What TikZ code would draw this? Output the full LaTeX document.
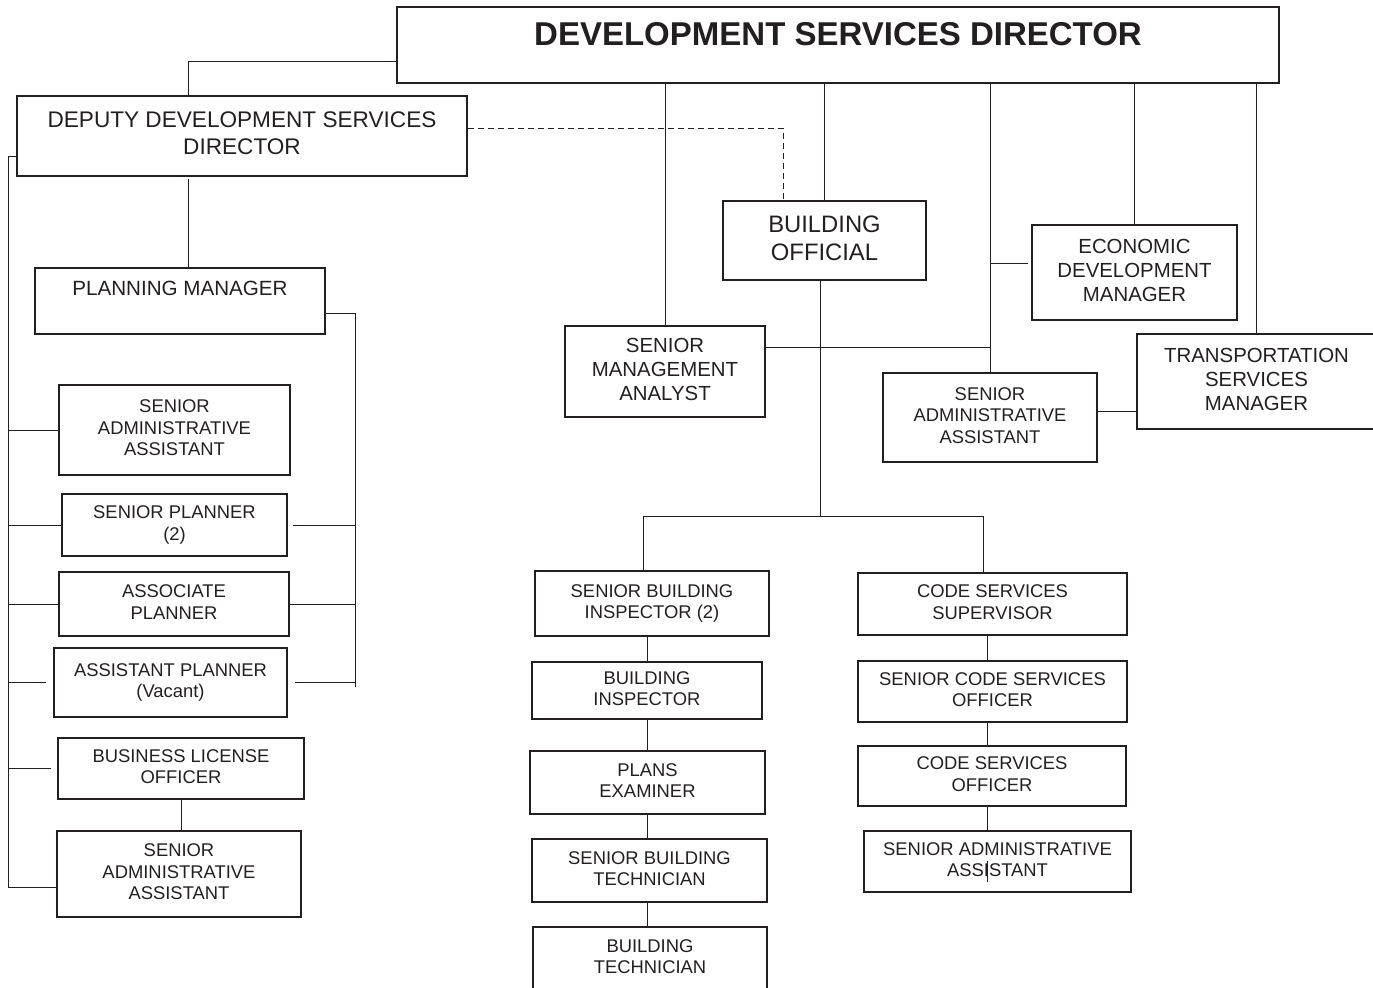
\documentclass[tikz,border=0pt]{standalone}
\usepackage{fontspec}
\setmainfont{Liberation Sans}
\definecolor{ink}{RGB}{35,31,32}
\newcommand\lines[1]{\begin{tabular}{@{}c@{}}#1\end{tabular}}

\begin{document}
\begin{tikzpicture}[x=0.5pt, y=-0.5pt, color=ink,
        box/.style={draw, line width=0.6pt, inner sep=0pt},
        wh/.style 2 args={minimum width=#1*0.5pt, minimum height=#2*0.5pt},
        link/.style={line width=0.5pt},
        dotlink/.style={line width=0.5pt, dash pattern=on 3pt off 2pt},
        titlefont/.style={font=\bfseries\fontsize{16.5}{19}\selectfont},
        depfont/.style={font=\fontsize{11.3}{13.5}\selectfont},
        bigfont/.style={font=\fontsize{11.9}{14}\selectfont},
        pmfont/.style={font=\fontsize{10.3}{12.4}\selectfont},
        midfont/.style={font=\fontsize{10.2}{12}\selectfont},
        smallfont/.style={font=\fontsize{9.2}{10.75}\selectfont}]
        \useasboundingbox (0,0) rectangle (1373,987);

        % top of the chart
        \node[box, titlefont, wh={882}{76}] (dir) at (838,45) {\lines{DEVELOPMENT SERVICES DIRECTOR\rule[-12.7pt]{0pt}{12.7pt}}};
        \node[box, depfont, wh={450}{80}] (dep) at (242,136) {\lines{DEPUTY DEVELOPMENT SERVICES\\DIRECTOR}};
        \node[box, bigfont, wh={203}{79}] (bo) at (824.5,240.5) {\lines{BUILDING\\OFFICIAL}};
        \node[box, midfont, wh={200}{91}] (sma) at (665,371.5) {\lines{SENIOR\\MANAGEMENT\\ANALYST}};
        \node[box, midfont, wh={205}{95}] (edm) at (1134.5,272.5) {\lines{ECONOMIC\\DEVELOPMENT\\MANAGER}};
        \node[box, midfont, wh={239}{95}] (tsm) at (1256.5,381.5) {\lines{TRANSPORTATION\\SERVICES\\MANAGER}};
        \node[box, smallfont, wh={214}{89}] (saa) at (990,417.5) {\lines{SENIOR\\ADMINISTRATIVE\\ASSISTANT}};

        % planning side
        \node[box, pmfont, wh={290}{66}] (pm) at (180,301) {\lines{PLANNING MANAGER\rule[-14.3pt]{0pt}{14.3pt}}};
        \node[box, smallfont, wh={231}{90}] (saa1) at (174.5,430) {\lines{SENIOR\\ADMINISTRATIVE\\ASSISTANT}};
        \node[box, smallfont, wh={225}{62}] (sp) at (174.5,525) {\lines{SENIOR PLANNER\\(2)}};
        \node[box, smallfont, wh={230}{64}] (assoc) at (174,604) {\lines{ASSOCIATE\\PLANNER}};
        \node[box, smallfont, wh={233}{69}] (asst) at (170.5,682.5) {\lines{ASSISTANT PLANNER\\(Vacant)}};
        \node[box, smallfont, wh={246}{61}] (blo) at (181,768.5) {\lines{BUSINESS LICENSE\\OFFICER}};
        \node[box, smallfont, wh={244}{86}] (saa2) at (179,874) {\lines{SENIOR\\ADMINISTRATIVE\\ASSISTANT}};

        % building side
        \node[box, smallfont, wh={234}{65}] (sbi) at (652,603.5) {\lines{SENIOR BUILDING\\INSPECTOR (2)}};
        \node[box, smallfont, wh={230}{57}] (binsp) at (647,690.5) {\lines{BUILDING\\INSPECTOR}};
        \node[box, smallfont, wh={235}{63}] (pe) at (647.5,782.5) {\lines{PLANS\\EXAMINER}};
        \node[box, smallfont, wh={235}{63}] (sbt) at (649.5,870.5) {\lines{SENIOR BUILDING\\TECHNICIAN}};
        \node[box, smallfont, wh={234}{63}] (bt) at (650,958.5) {\lines{BUILDING\\TECHNICIAN}};

        % code side
        \node[box, smallfont, wh={269}{62}] (css) at (992.5,604) {\lines{CODE SERVICES\\SUPERVISOR}};
        \node[box, smallfont, wh={269}{61}] (scso) at (992.5,691.5) {\lines{SENIOR CODE SERVICES\\OFFICER}};
        \node[box, smallfont, wh={268}{60}] (cso) at (992,776) {\lines{CODE SERVICES\\OFFICER}};
        \node[box, smallfont, wh={267}{61}] (saac) at (997.5,861.5) {\lines{SENIOR ADMINISTRATIVE\\ASSISTANT}};

        \coordinate (dirleft) at (188,61);
        \coordinate (depdown) at (188,179);
        \coordinate (dashturn) at (783,128);
        \coordinate (smaout) at (765,347);
        \coordinate (edin) at (1028,263);
        \coordinate (saaout) at (1097,411);
        \coordinate (lbus) at (8,156);
        \coordinate (lbusend) at (8,887);
        \coordinate (rbus) at (355,313);
        \coordinate (rbusend) at (355,687);
        \coordinate (bofork) at (820,516);
        \coordinate (forkl) at (643,516);
        \coordinate (forkr) at (983,516);
        \coordinate (bldx) at (647,640);
        \coordinate (codex) at (987,640);

        \draw[link] (dir.west |- dirleft) -- (dirleft) -- (dirleft |- dep.north);
        \draw[dotlink] (dep.east |- dashturn) -- (dashturn) -- (dashturn |- bo.north);
        \draw[link] (dir.south -| bo.north) -- (bo.north);
        \draw[link] (dir.south -| sma.north) -- (sma.north);
        \draw[link] (dir.south -| saa.north) -- (saa.north);
        \draw[link] (dir.south -| edm.north) -- (edm.north);
        \draw[link] (dir.south -| tsm.north) -- (tsm.north);
        \draw[link] (smaout) -- (smaout -| saa.north);
        \draw[link] (edin -| saa.north) -- (edin);
        \draw[link] (saaout) -- (saaout -| tsm.west);

        \draw[link] (depdown) -- (depdown |- pm.north);
        \draw[link] (dep.west |- lbus) -- (lbus) -- (lbusend) -- (lbusend -| saa2.west);
        \draw[link] (lbus |- saa1.west) -- (saa1.west);
        \draw[link] (lbus |- sp.west) -- (sp.west);
        \draw[link] (lbus |- assoc.west) -- (assoc.west);
        \draw[link, shorten >=3.5pt] (lbus |- asst.west) -- (asst.west);
        \draw[link, shorten >=3pt] (lbus |- blo.west) -- (blo.west);
        \draw[link] (pm.east |- rbus) -- (rbus) -- (rbusend);
        \draw[link, shorten <=2.5pt] (sp.east) -- (rbus |- sp.east);
        \draw[link] (assoc.east) -- (rbus |- assoc.east);
        \draw[link, shorten <=3.5pt] (asst.east) -- (rbus |- asst.east);
        \draw[link] (blo.south) -- (blo.south |- saa2.north);

        \draw[link] (bofork |- bo.south) -- (bofork);
        \draw[link] (forkl |- sbi.north) -- (forkl) -- (forkr) -- (forkr |- css.north);
        \draw[link] (bldx |- sbi.south) -- (bldx |- binsp.north);
        \draw[link] (bldx |- binsp.south) -- (bldx |- pe.north);
        \draw[link] (bldx |- pe.south) -- (bldx |- sbt.north);
        \draw[link] (bldx |- sbt.south) -- (bldx |- bt.north);
        \draw[link] (codex |- css.south) -- (codex |- scso.north);
        \draw[link] (codex |- scso.south) -- (codex |- cso.north);
        \draw[link] (codex |- cso.south) -- (codex |- saac.north);
        \draw[link] (codex |- saac.north) ++(0,31) -- ++(0,21);
\end{tikzpicture}
\end{document}
